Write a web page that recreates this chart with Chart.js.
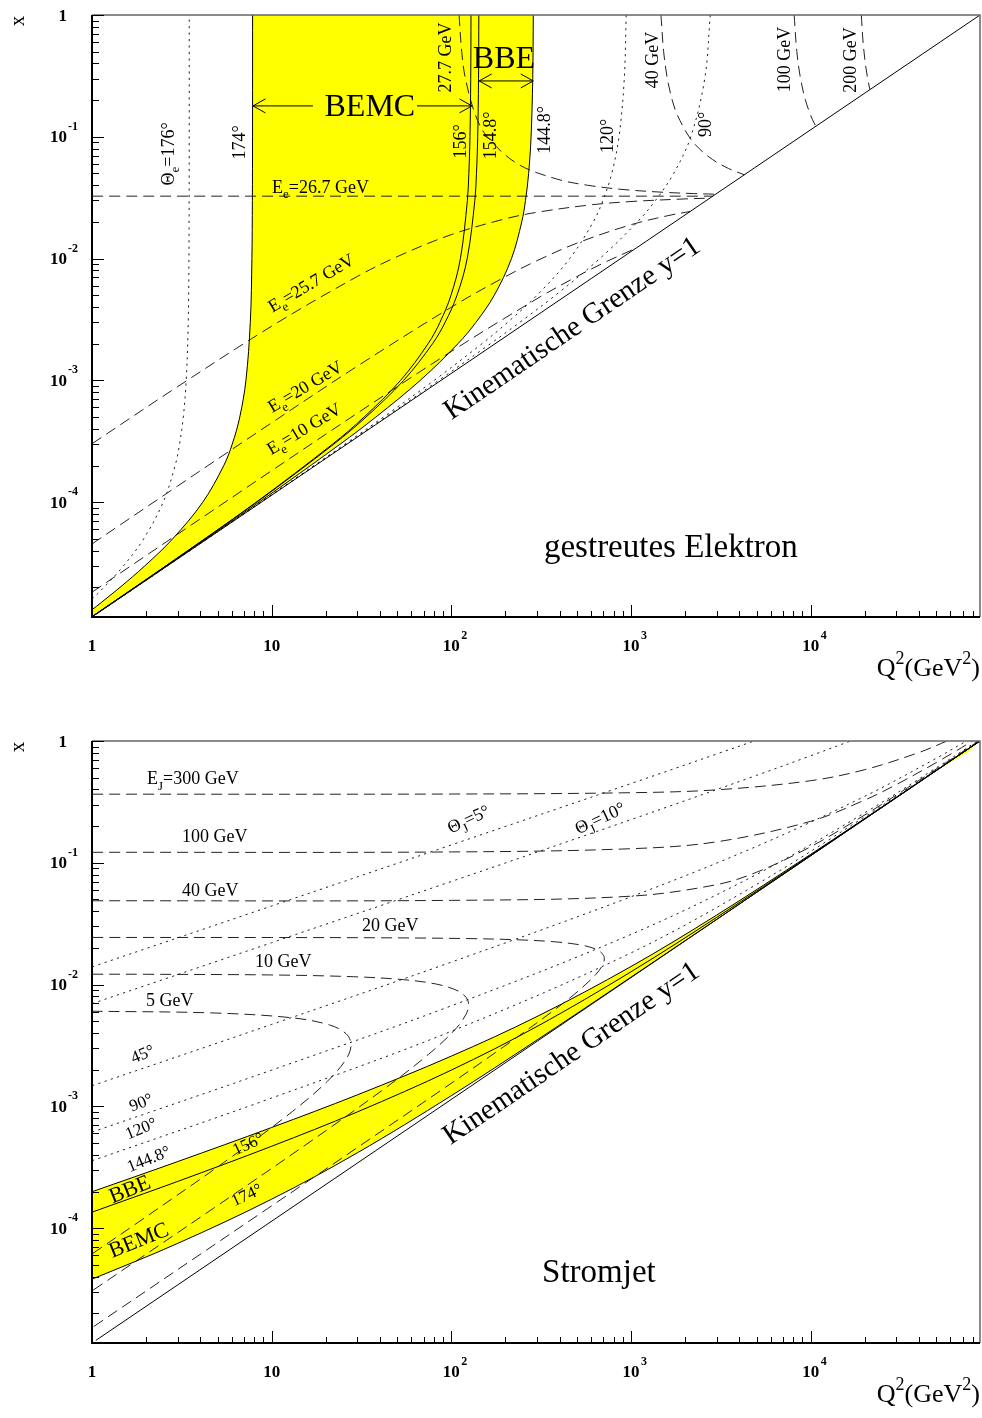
<!DOCTYPE html>
<html>
<head>
<meta charset="utf-8">
<script src="https://cdn.jsdelivr.net/npm/chart.js@4.4.1/dist/chart.umd.min.js"></script>
<style>
  html, body { margin: 0; padding: 0; background: #fff; }
  .panel { position: absolute; left: 0; width: 982px; }
  #p1 { top: 0; height: 709px; }
  #p2 { top: 726px; height: 692px; }
</style>
</head>
<body>
<div class="panel" id="p1"><canvas id="c1" width="982" height="709"></canvas></div>
<div class="panel" id="p2"><canvas id="c2" width="982" height="692"></canvas></div>
<script>
// HERA kinematic plane (E_e = 26.7 GeV, E_p = 820 GeV), points given as [Q² (GeV²), x]

const Q2_MIN = 1, Q2_MAX = 87576;
const X_MIN = 1.1419e-5, X_MAX = 1;

const q2TickValues = [1, 10, 100, 1000, 10000];
const q2TickLabels = ['1', '10', '10^{2}', '10^{3}', '10^{4}'];
const xTickValues = [1, 0.1, 0.01, 0.001, 0.0001];
const xTickLabels = ['1', '10^{-1}', '10^{-2}', '10^{-3}', '10^{-4}'];

// ---------- scattered electron ----------
const kinLimit = [[1.05, 1.199e-5], [87576, 1]];

const thetaE176 = [[1, 1.6027e-5], [1.1648, 2e-5], [1.4966, 3e-5], [1.9382, 5e-5], [2.4891, 1e-4], [2.9014, 2e-4], [3.0711, 3e-4], [3.2216, 5e-4], [3.3447, 1e-3], [3.4321, 3e-3], [3.4637, 1e-2], [3.4761, 0.1], [3.4774, 1]];
const thetaE174 = [[0.9, 1.1611e-5], [1, 1.309e-5], [1.1249, 1.5e-5], [1.4314, 2e-5], [1.9674, 3e-5], [2.8086, 5e-5], [4.1346, 1e-4], [5.4121, 2e-4], [6.0335, 3e-4], [6.6438, 5e-4], [7.1892, 1e-3], [7.6054, 3e-3], [7.7627, 1e-2], [7.8088, 3e-2], [7.8251, 0.1], [7.8314, 1]];
const thetaE156 = [[1, 1.1508e-5], [2.5748, 3e-5], [8.2001, 1e-4], [21.823, 3e-4], [32.680, 5e-4], [52.136, 1e-3], [74.232, 2e-3], [86.444, 3e-3], [99.545, 5e-3], [112.312, 1e-2], [122.814, 3e-2], [125.152, 5e-2], [126.967, 0.1], [128.205, 0.3], [128.645, 1]];
const thetaE154_8 = [[1, 1.1499e-5], [2.5797, 3e-5], [8.2504, 1e-4], [22.182, 3e-4], [33.494, 5e-4], [54.238, 1e-3], [78.567, 2e-3], [92.380, 3e-3], [107.498, 5e-3], [122.540, 1e-2], [135.145, 3e-2], [137.985, 5e-2], [140.194, 0.1], [141.706, 0.3], [142.244, 1]];
const thetaE144_8 = [[0.9, 1.0309e-5], [1, 1.1458e-5], [2.6035, 3e-5], [8.4982, 1e-4], [24.069, 3e-4], [37.989, 5e-4], [67.096, 1e-3], [108.757, 2e-3], [137.143, 3e-3], [173.335, 5e-3], [216.108, 1e-2], [246.523, 2e-2], [258.662, 3e-2], [269.263, 5e-2], [277.807, 0.1], [283.808, 0.3], [285.970, 1]];
const thetaE120 = [[1, 1.1431e-5], [2.6201, 3e-5], [8.6777, 1e-4], [25.567, 3e-4], [41.859, 5e-4], [80.188, 1e-3], [147.90, 2e-3], [205.84, 3e-3], [299.78, 5e-3], [455.81, 1e-2], [616.15, 2e-2], [698.00, 3e-2], [780.98, 5e-2], [857.46, 0.1], [917.33, 0.3], [940.31, 1]];
const thetaE90 = [[1, 1.1423e-5], [3, 3.4294e-5], [8.7308, 1e-4], [26.033, 3e-4], [43.126, 5e-4], [84.967, 1e-3], [165.02, 2e-3], [240.56, 3e-3], [379.59, 5e-3], [670.00, 1e-2], [1085.06, 2e-2], [1367.40, 3e-2], [1726.9, 5e-2], [2151.15, 0.1], [2572.36, 0.3], [2761.64, 1]];

const eE26_7 = [[1, 0.032561], [2851.56, 0.032561]];
const eE25_7 = [[1, 3.0205e-4], [3, 8.8966e-4], [10, 2.7878e-3], [30, 7.1405e-3], [50, 0.010383], [100, 0.015745], [200, 0.021226], [300, 0.024012], [600, 0.027641], [1000, 0.029419], [2000, 0.030910], [2744.76, 0.031341]];
const eE20 = [[1, 4.5441e-5], [3, 1.3594e-4], [10, 4.4877e-4], [30, 1.3102e-3], [100, 3.9925e-3], [200, 7.1128e-3], [300, 9.6187e-3], [500, 0.013393], [1000, 0.018980], [1600, 0.022499], [2136, 0.024390]];
const eE10 = [[1, 1.8246e-5], [3, 5.4676e-5], [10, 1.8154e-4], [30, 5.3862e-4], [100, 1.7287e-3], [300, 4.6882e-3], [500, 7.1295e-3], [700, 9.1773e-3], [1068, 0.012195]];
const eE27_7 = [[110.39, 1], [114.24, 0.5], [119.80, 0.3], [136.41, 0.15], [158.36, 0.1], [233.54, 0.06], [386.36, 0.045], [574.26, 0.04], [890.19, 0.037], [1532.6, 0.035], [2218.77, 0.034208], [2958.36, 0.033780]];
const eE40 = [[1468.25, 1], [1519.39, 0.5], [1593.38, 0.3], [1696.67, 0.2], [1814.27, 0.15], [2106.26, 0.1], [2395.40, 0.08], [2846.22, 0.065], [3481.62, 0.055], [4272.0, 0.048781]];
const eE100 = [[8091.95, 1], [8373.79, 0.5], [8781.60, 0.3], [9350.84, 0.2], [9998.98, 0.15], [10444.5, 0.13], [10680, 0.121951]];
const eE200 = [[19131.6, 1], [19570.7, 0.6], [20148.8, 0.4], [20762.1, 0.3], [21360, 0.243903]];

// ---------- current jet ----------
const jetE300 = [[1, 0.36585], [100, 0.36691], [1000, 0.37629], [3000, 0.39730], [10000, 0.47217], [20000, 0.58142], [40000, 0.80410], [57402, 1]];
const jetE100 = [[1, 0.121951], [100, 0.122791], [1000, 0.130522], [3000, 0.148707], [10000, 0.219175], [20000, 0.327630], [30000, 0.439103], [50000, 0.665061], [65000, 0.835222], [79484, 1]];
const jetE40 = [[1, 0.04878], [100, 0.049166], [1000, 0.053212], [3000, 0.066183], [5000, 0.083651], [10000, 0.135534], [20000, 0.247093], [30000, 0.360353], [60000, 0.702055], [86083, 1]];
const jetE20 = [[1, 0.02439], [9.9843, 0.024353], [39.744, 0.024234], [117.607, 0.023903], [229.82, 0.023356], [369.13, 0.022508], [521.48, 0.021199], [639.52, 0.019497], [697.47, 0.017720], [710.23, 0.016250], [698.14, 0.014679], [638.80, 0.012172], [507.88, 0.008848], [361.43, 0.005956], [194.98, 0.003080], [90.17, 0.0013955], [31.254, 4.7883e-4], [9.5073, 1.4514e-4], [1, 1.5246e-5]];
const jetE10 = [[1, 0.012176], [1.99373, 0.012157], [9.8422, 0.012003], [28.553, 0.011607], [54.036, 0.010983], [82.748, 0.010091], [109.07, 0.0088676], [121.34, 0.0077879], [124.72, 0.0068096], [120.28, 0.0056418], [104.30, 0.0042397], [74.819, 0.0026836], [42.460, 0.0013995], [15.358, 4.8026e-4], [4.7391, 1.4558e-4], [1, 3.0535e-5]];
const jetE5 = [[0.99186, 0.0060479], [4.7949, 0.0058475], [13.1186, 0.0053328], [21.0200, 0.0046608], [25.9433, 0.0039548], [27.657, 0.0032122], [25.903, 0.0024299], [20.398, 0.0016049], [13.081, 9.1157e-4], [5.7779, 3.7086e-4], [1.8117, 1.1215e-4], [1, 6.1475e-5]];

const jetTheta5 = [[1, 0.013971], [10, 0.044220], [100, 0.140226], [1000, 0.447368], [3000, 0.782255], [4843.6, 1]];
const jetTheta10 = [[1, 6.9752e-3], [10, 0.022097], [100, 0.070270], [1000, 0.226188], [5000, 0.522196], [10000, 0.756393], [16668.5, 1]];
const jetTheta45 = [[1, 1.47779e-3], [10, 4.71256e-3], [100, 0.015303], [1000, 0.052609], [5000, 0.136483], [20000, 0.351630], [50000, 0.721183], [73607, 1]];
const jetTheta90 = [[1, 6.1549e-4], [10, 1.98615e-3], [100, 6.6951e-3], [1000, 0.025819], [5000, 0.080256], [20000, 0.257279], [50000, 0.601825], [84814, 1]];
const jetTheta120 = [[1, 3.5781e-4], [10, 1.17182e-3], [100, 4.1374e-3], [1000, 0.018221], [5000, 0.066424], [20000, 0.238764], [50000, 0.582246], [86636, 1]];
const jetTheta144_8 = [[0.7, 1.658e-4], [1, 1.99203e-4], [3, 3.5257e-4], [10, 6.7138e-4], [30, 1.24441e-3], [100, 2.58756e-3], [300, 5.4753e-3], [1000, 0.014076], [3000, 0.037268], [10000, 0.117374], [30000, 0.345598], [50000, 0.57421], [70000, 0.80288], [87290, 1]];
const jetTheta156 = [[1, 1.35444e-4], [3, 2.42266e-4], [10, 4.70904e-4], [30, 9.0153e-4], [100, 1.98719e-3], [300, 4.53649e-3], [1000, 0.012737], [3000, 0.035669], [10000, 0.115640], [87447, 1]];
const jetTheta174 = [[0.7, 3.103e-5], [1, 3.81714e-5], [3, 7.5066e-5], [10, 1.73160e-4], [30, 4.16174e-4], [100, 1.22523e-3], [300, 3.51288e-3], [1000, 0.011507], [5000, 0.057183], [20000, 0.22846], [50000, 0.57103], [87568, 1]];

// ---------- annotations ----------
const labelsTop = [
  { t: 'Θ_{e}=176°', q: 2.648, x: 0.07241, rot: -90 },
  { t: '174°', q: 6.62, x: 0.0899, rot: -90 },
  { t: 'BEMC', q: 35.2, x: 0.1793, size: 32 },
  { t: 'BBE', q: 196.2, x: 0.448, size: 32 },
  { t: '27.7 GeV', q: 92.1, x: 0.448, rot: -90 },
  { t: '156°', q: 112.4, x: 0.0917, rot: -90 },
  { t: '154.8°', q: 165.1, x: 0.1027, rot: -90 },
  { t: '144.8°', q: 329.7, x: 0.1139, rot: -90 },
  { t: '120°', q: 739.1, x: 0.1017, rot: -90 },
  { t: '40 GeV', q: 1315.5, x: 0.4275, rot: -90 },
  { t: '90°', q: 2594, x: 0.1264, rot: -90 },
  { t: '100 GeV', q: 7141, x: 0.4315, rot: -90 },
  { t: '200 GeV', q: 16631, x: 0.4275, rot: -90 },
  { t: 'E_{e}=26.7 GeV', q: 10.04, x: 0.03882, align: 'left' },
  { t: 'E_{e}=25.7 GeV', q: 16.55, x: 6.33e-3, rot: -31 },
  { t: 'E_{e}=20 GeV', q: 15.33, x: 8.93e-4, rot: -31 },
  { t: 'E_{e}=10 GeV', q: 15.12, x: 4.016e-4, rot: -31 },
  { t: 'Kinematische Grenze y=1', q: 465.9, x: 2.731e-3, rot: -34.2, size: 29 },
  { t: 'gestreutes Elektron', q: 1667, x: 4.322e-5, size: 33 }
];
const arrowsTop = [
  { from: [16.98, 0.1793], to: [7.869, 0.1793] },
  { from: [64.4, 0.1793], to: [130.2, 0.1793] },
  { from: [142.9, 0.2875], to: [285.6, 0.2875], both: true }
];

const labelsBottom = [
  { t: 'E_{J}=300 GeV', q: 2.023, x: 0.4926, align: 'left' },
  { t: '100 GeV', q: 3.169, x: 0.1647, align: 'left' },
  { t: '40 GeV', q: 3.169, x: 0.05993, align: 'left' },
  { t: '20 GeV', q: 31.8, x: 0.03095, align: 'left' },
  { t: '10 GeV', q: 8.07, x: 0.01553, align: 'left' },
  { t: '5 GeV', q: 2.0, x: 7.506e-3, align: 'left' },
  { t: 'Θ_{J}=5°', q: 124.5, x: 0.2291, rot: -25 },
  { t: 'Θ_{J}=10°', q: 671.4, x: 0.2335, rot: -25 },
  { t: '45°', q: 1.910, x: 2.706e-3, rot: -22, size: 17 },
  { t: '90°', q: 1.873, x: 1.0826e-3, rot: -22, size: 17 },
  { t: '120°', q: 1.873, x: 6.627e-4, rot: -22, size: 17 },
  { t: '144.8°', q: 2.063, x: 3.724e-4, rot: -22, size: 17 },
  { t: '156°', q: 7.383, x: 4.943e-4, rot: -25, size: 17 },
  { t: '174°', q: 7.242, x: 1.886e-4, rot: -25, size: 17 },
  { t: 'BBE', q: 1.617, x: 2.113e-4, rot: -22, size: 22 },
  { t: 'BEMC', q: 1.815, x: 8.064e-5, rot: -22, size: 22 },
  { t: 'Kinematische Grenze y=1', q: 460.1, x: 2.783e-3, rot: -34.2, size: 29 },
  { t: 'Stromjet', q: 662.8, x: 4.406e-5, size: 33 }
];

// ---------- drawing helpers ----------
const FONT = '"Liberation Serif", "Times New Roman", Times, serif';
const DASH = [11, 6];
const DOT = [2.2, 4.3];

function pts(arr) { return arr.map(([q, x]) => ({ x: q, y: x })); }

function curve(arr, kind) {
  return {
    data: pts(arr),
    borderColor: kind === 'solid' ? '#000' : '#222',
    borderWidth: 1,
    borderDash: kind === 'dash' ? DASH : kind === 'dot' ? DOT : [],
    pointRadius: 0,
    fill: false,
    tension: 0.35
  };
}

function band(arr) {
  return {
    data: pts(arr),
    borderColor: 'rgba(0,0,0,0)',
    borderWidth: 1,
    backgroundColor: '#ffff00',
    pointRadius: 0,
    fill: 'shape',
    tension: 0.35
  };
}

// text with _{sub} and ^{sup} parts; (px, py) is the middle of the main text
function richText(ctx, str, px, py, size, rot, align, bold) {
  const segs = [];
  const re = /([_^])\{([^}]*)\}|([^_^]+)/g;
  let m;
  while ((m = re.exec(str))) {
    if (m[1]) segs.push({ t: m[2], k: m[1] });
    else segs.push({ t: m[3], k: '' });
  }
  const weight = bold ? 'bold ' : '';
  const fontFor = k => weight + (k ? Math.round(size * 0.7) : size) + 'px ' + FONT;
  let W = 0;
  for (const s of segs) { ctx.font = fontFor(s.k); s.w = ctx.measureText(s.t).width; W += s.w; }
  ctx.save();
  ctx.translate(px, py);
  ctx.rotate((rot || 0) * Math.PI / 180);
  let cx = align === 'left' ? 0 : align === 'right' ? -W : -W / 2;
  ctx.textBaseline = 'alphabetic';
  ctx.textAlign = 'left';
  ctx.fillStyle = '#000';
  const base = size * 0.33;
  for (const s of segs) {
    ctx.font = fontFor(s.k);
    const dy = s.k === '_' ? size * 0.3 : s.k === '^' ? -size * 0.45 : 0;
    ctx.fillText(s.t, cx, base + dy);
    cx += s.w;
  }
  ctx.restore();
}

function splitPow(label) {
  const m = /^([^^]*)\^\{([^}]*)\}$/.exec(label);
  return m ? [m[1], m[2]] : [label, ''];
}

function arrowHead(ctx, xt, yt, xf, yf) {
  const a = Math.atan2(yt - yf, xt - xf);
  const L = 12.5, W = 7;
  ctx.beginPath();
  ctx.moveTo(xt - L * Math.cos(a) - W * Math.sin(a), yt - L * Math.sin(a) + W * Math.cos(a));
  ctx.lineTo(xt, yt);
  ctx.lineTo(xt - L * Math.cos(a) + W * Math.sin(a), yt - L * Math.sin(a) - W * Math.cos(a));
  ctx.stroke();
}

function decor(labels, arrows) {
  return {
    id: 'decor',
    afterDraw(chart) {
      const { ctx, chartArea: a, scales } = chart;
      const sx = scales.x, sy = scales.y;
      ctx.save();

      // frame
      ctx.strokeStyle = '#666';
      ctx.lineWidth = 1.5;
      ctx.beginPath();
      ctx.moveTo(a.left, a.top);
      ctx.lineTo(a.right, a.top);
      ctx.lineTo(a.right, a.bottom);
      ctx.stroke();
      ctx.strokeStyle = '#000';
      ctx.lineWidth = 2;
      ctx.beginPath();
      ctx.moveTo(a.left, a.top);
      ctx.lineTo(a.left, a.bottom);
      ctx.lineTo(a.right, a.bottom);
      ctx.stroke();

      // ticks
      ctx.lineWidth = 1;
      ctx.beginPath();
      for (let d = 1; d <= 10000; d *= 10) {
        for (let k = 1; k <= 9; k++) {
          const v = d * k;
          if (v > Q2_MAX || v <= Q2_MIN) continue;
          const p = Math.round(sx.getPixelForValue(v)) + 0.5;
          ctx.moveTo(p, a.bottom);
          ctx.lineTo(p, a.bottom - (k === 1 ? 12 : 6));
        }
      }
      for (let d = 1e-5; d < 1.5; d *= 10) {
        for (let k = 1; k <= 9; k++) {
          const v = d * k;
          if (v > X_MAX * 1.0001 || v < X_MIN) continue;
          const p = Math.round(sy.getPixelForValue(v)) + 0.5;
          ctx.moveTo(a.left, p);
          ctx.lineTo(a.left + (k === 1 ? 12 : 7), p);
        }
      }
      ctx.stroke();

      // tick labels
      q2TickValues.forEach((v, i) => {
        const [b, e] = splitPow(q2TickLabels[i]);
        const p = sx.getPixelForValue(v);
        const yMid = a.bottom + 28;
        ctx.font = 'bold 17px ' + FONT;
        const wb = ctx.measureText(b).width;
        richText(ctx, b, p, yMid, 17, 0, 'center', true);
        if (e) richText(ctx, e, p + wb / 2 + 1.5, yMid - 10, 12, 0, 'left', true);
      });
      xTickValues.forEach((v, i) => {
        const [b, e] = splitPow(xTickLabels[i]);
        const p = sy.getPixelForValue(v);
        const xr = a.left - 25;
        richText(ctx, b, xr, p, 17, 0, 'right', true);
        if (e) richText(ctx, e, xr + 1, p - 11, 12, 0, 'left', true);
      });

      // axis titles
      richText(ctx, 'x', a.left - 75, a.top + 6, 21, -90, 'center', false);
      richText(ctx, 'Q^{2}(GeV^{2})', a.right, a.bottom + 50, 26, 0, 'right', false);

      // curve labels
      for (const l of labels) {
        richText(ctx, l.t, sx.getPixelForValue(l.q), sy.getPixelForValue(l.x),
          l.size || 18, l.rot || 0, l.align || 'center', false);
      }

      // arrows
      ctx.strokeStyle = '#000';
      ctx.lineWidth = 1;
      for (const ar of arrows) {
        const x1 = sx.getPixelForValue(ar.from[0]), y1 = sy.getPixelForValue(ar.from[1]);
        const x2 = sx.getPixelForValue(ar.to[0]), y2 = sy.getPixelForValue(ar.to[1]);
        ctx.beginPath();
        ctx.moveTo(x1, y1);
        ctx.lineTo(x2, y2);
        ctx.stroke();
        arrowHead(ctx, x2, y2, x1, y1);
        if (ar.both) arrowHead(ctx, x1, y1, x2, y2);
      }
      ctx.restore();
    }
  };
}

function makeChart(id, datasets, bottomPad, plugin) {
  return new Chart(document.getElementById(id), {
    type: 'line',
    data: { datasets },
    options: {
      responsive: false,
      animation: false,
      events: [],
      layout: { padding: { left: 92, top: 15, right: 2, bottom: bottomPad } },
      scales: {
        x: { type: 'logarithmic', min: Q2_MIN, max: Q2_MAX, display: false },
        y: { type: 'logarithmic', min: X_MIN, max: X_MAX, display: false }
      },
      plugins: {
        legend: { display: false },
        tooltip: { enabled: false },
        filler: { drawTime: 'beforeDatasetsDraw' }
      }
    },
    plugins: [plugin]
  });
}

// yellow acceptance regions (BEMC + BBE), closed above the frame
const electronBand = [...thetaE174, [7.8314, 1.6], [285.970, 1.6], ...thetaE144_8.slice().reverse()];
const jetBand = [...jetTheta144_8, [87290, 1.6], [87568, 1.6], ...jetTheta174.slice().reverse()];

makeChart('c1', [
  band(electronBand),
  curve(kinLimit, 'solid'),
  curve(thetaE176, 'dot'),
  curve(thetaE174, 'solid'),
  curve(thetaE156, 'solid'),
  curve(thetaE154_8, 'solid'),
  curve(thetaE144_8, 'solid'),
  curve(thetaE120, 'dot'),
  curve(thetaE90, 'dot'),
  curve(eE26_7, 'dash'),
  curve(eE25_7, 'dash'),
  curve(eE20, 'dash'),
  curve(eE10, 'dash'),
  curve(eE27_7, 'dash'),
  curve(eE40, 'dash'),
  curve(eE100, 'dash'),
  curve(eE200, 'dash')
], 92, decor(labelsTop, arrowsTop));

makeChart('c2', [
  band(jetBand),
  curve(kinLimit, 'solid'),
  curve(jetE300, 'dash'),
  curve(jetE100, 'dash'),
  curve(jetE40, 'dash'),
  curve(jetE20, 'dash'),
  curve(jetE10, 'dash'),
  curve(jetE5, 'dash'),
  curve(jetTheta5, 'dot'),
  curve(jetTheta10, 'dot'),
  curve(jetTheta45, 'dot'),
  curve(jetTheta90, 'dot'),
  curve(jetTheta120, 'dot'),
  curve(jetTheta144_8, 'solid'),
  curve(jetTheta156, 'solid'),
  curve(jetTheta174, 'solid')
], 75, decor(labelsBottom, []));
</script>
</body>
</html>
